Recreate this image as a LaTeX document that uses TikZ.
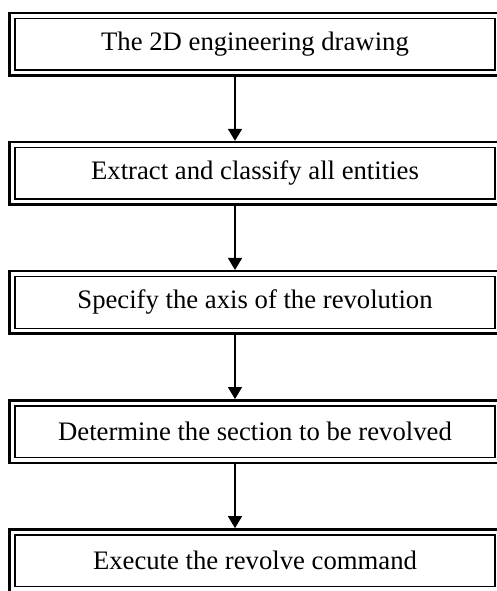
\documentclass[tikz,border=0pt]{standalone}
\usepackage{fontspec}
\setmainfont{Liberation Serif}
\usetikzlibrary{arrows.meta}
\begin{document}
\begin{tikzpicture}[x=1pt,y=-1pt,
  outerbox/.style={draw,line width=2.5pt,minimum width=491pt,minimum height=62.5pt,inner sep=0pt},
  innerbox/.style={draw,line width=1.4pt,minimum width=480pt,minimum height=51.5pt,inner sep=0pt,
    font=\fontsize{26.7}{32}\selectfont},
  arr/.style={line width=1.5pt,-{Triangle[width=14pt,length=12pt]}}]
\useasboundingbox (0,0) rectangle (497,591);
\foreach \n/\y/\t in {1/44.25/The 2D engineering drawing,
                      2/173.35/Extract and classify all entities,
                      3/302.45/Specify the axis of the revolution,
                      4/431.55/Determine the section to be revolved,
                      5/560.65/Execute the revolve command}{
  \node[outerbox] (b\n) at (255,\y) {};
  \node[innerbox] (b\n i) at (b\n.center) {\t};
}
\foreach \a/\b in {1/2,2/3,3/4,4/5}{
  \draw[arr] ([xshift=-20pt]b\a.south) -- ([xshift=-20pt]b\b.north);
}
\end{tikzpicture}
\end{document}
